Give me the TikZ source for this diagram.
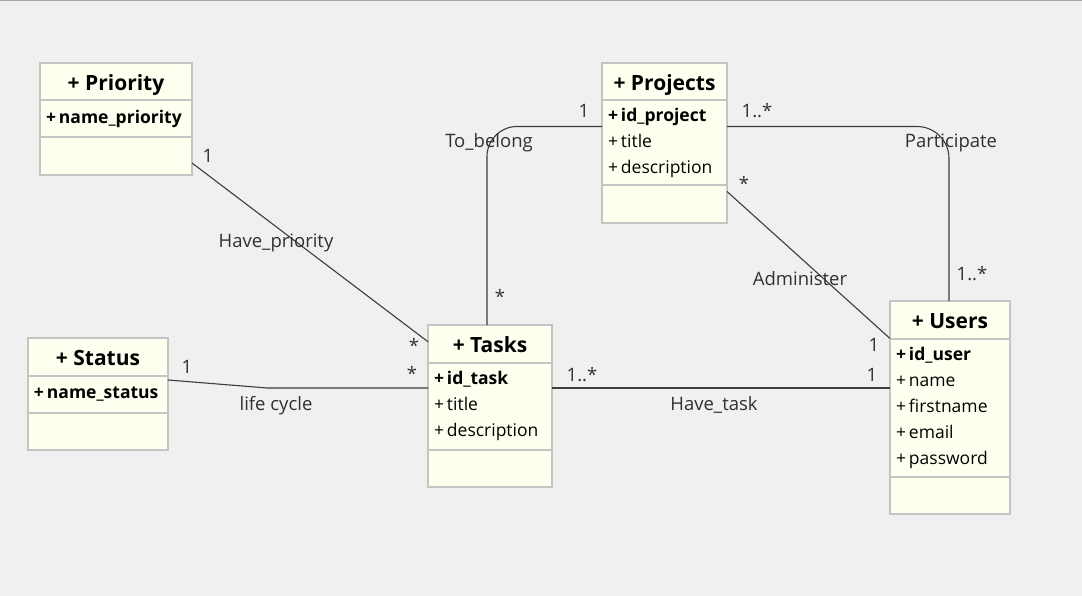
\documentclass[tikz,border=0pt]{standalone}
\usepackage{fontspec}
\setmainfont{Open Sans}
\usetikzlibrary{
calc
}
\definecolor{canvas}{HTML}{F0F0F0}
\definecolor{frameline}{HTML}{A8A8A8}
\definecolor{boxfill}{HTML}{FFFFF0}
\definecolor{boxgray}{HTML}{C4C4C4}
\definecolor{linkgray}{HTML}{3C3C3C}
\definecolor{labelgray}{HTML}{303030}
\newcommand{\classfont}{\bfseries\fontsize{21}{24}\selectfont}
\newcommand{\memberfont}{\fontsize{17.5}{26}\selectfont\hyphenpenalty=10000}
\newcommand{\member}[1]{+\kern0.17em#1}
\newcommand{\keymember}[1]{{\bfseries\member{#1}}}
\newcommand{\linkfont}{\fontsize{18.5}{22}\selectfont}

\begin{document}
\begin{tikzpicture}[
        x=1pt, y=-1pt,
        class part/.style={
          draw=boxgray, line width=2pt, fill=boxfill,
          anchor=north west, outer sep=0pt, inner sep=0pt,
        },
        class head/.style={
          class part, font=\classfont,
          text height=17.5pt, text depth=0pt,
          minimum width=#1, minimum height=37.5pt,
        },
        class attr/.style 2 args={
          class part, font=\memberfont, align=left,
          inner xsep=6pt, text width=#1, minimum height=#2,
        },
        class ops/.style={
          class part, minimum width=#1, minimum height=37.5pt,
        },
        link/.style={
          draw=linkgray, line width=1.1pt,
        },
        link label/.style={
          font=\linkfont, text=labelgray, anchor=base, inner sep=0pt,
        },
        ]
        \useasboundingbox (0,0) rectangle (1082,596);
        \fill[canvas] (0,0) rectangle (1082,596);
        \draw[frameline, line width=1.5pt] (0,0.75) -- (1082,0.75);

        % classes
        \node[class head=152pt] (priority-head) at (40,63) {+ Priority};
        \node[class attr={140pt}{37pt}] (priority-attr) at (priority-head.south west)
        {\keymember{name\_priority}};
        \node[class ops=152pt] (priority-ops) at (priority-attr.south west) {};

        \node[class head=125pt] (projects-head) at (602,63) {+ Projects};
        \node[class attr={113pt}{85pt}] (projects-attr) at (projects-head.south west)
        {\keymember{id\_project}\\\member{title}\\\member{description}};
        \node[class ops=125pt] (projects-ops) at (projects-attr.south west) {};

        \node[class head=124pt] (tasks-head) at (428,325) {+ Tasks};
        \node[class attr={112pt}{87pt}] (tasks-attr) at (tasks-head.south west)
        {\keymember{id\_task}\\\member{title}\\\member{description}};
        \node[class ops=124pt] (tasks-ops) at (tasks-attr.south west) {};

        \node[class head=120pt] (users-head) at (890,301) {+ Users};
        \node[class attr={108pt}{138pt}] (users-attr) at (users-head.south west)
        {\keymember{id\_user}\\\member{name}\\\member{firstname}\\\member{email}\\\member{password}};
        \node[class ops=120pt] (users-ops) at (users-attr.south west) {};

        \node[class head=140pt] (status-head) at (28,338) {+ Status};
        \node[class attr={128pt}{37pt}] (status-attr) at (status-head.south west)
        {\keymember{name\_status}};
        \node[class ops=140pt] (status-ops) at (status-attr.south west) {};

        % associations
        \coordinate (task-link-w) at ($(tasks-attr.north west)+(0,25.5)$);
        \coordinate (task-link-e) at ($(tasks-attr.north east)+(0,25.5)$);
        \coordinate (life-bend) at ($(task-link-w)+(-161,0)$);

        \draw[link] ($(priority-ops.north east)+(0,25.5)$) -- ($(tasks-head.west)+(0,-2)$);
        \draw[link] ($(status-attr.north east)+(0,4.5)$) -- (life-bend) -- (task-link-w);
        \draw[link] (task-link-e) -- (task-link-e -| users-attr.west);
        \draw[link, rounded corners=30pt] ($(tasks-head.north)+(-3,0)$)
        |- ($(projects-attr.north west)+(0,26)$);
        \draw[link, rounded corners=32pt] ($(projects-attr.north east)+(0,26)$)
        -| ($(users-head.north)+(-1,0)$);
        \draw[link] ($(projects-ops.north east)+(0,6)$) -- (users-attr.north west);

        % multiplicities and names
        \node[link label] at (208,163) {1};
        \node[link label] at (414,352) {*};
        \node[link label] at (276,248) {Have\_priority};

        \node[link label] at (187,373) {1};
        \node[link label] at (412,380) {*};
        \node[link label] at (276,410) {life cycle};

        \node[link label] at (582,381) {1..*};
        \node[link label] at (714,410) {Have\_task};
        \node[link label] at (872,381) {1};

        \node[link label] at (584,118) {1};
        \node[link label] at (489,148) {To\_belong};
        \node[link label] at (500,303) {*};

        \node[link label] at (757,118) {1..*};
        \node[link label] at (951,148) {Participate};
        \node[link label] at (972,280) {1..*};

        \node[link label] at (744,191) {*};
        \node[link label] at (800,286) {Administer};
        \node[link label] at (874,351) {1};
      \end{tikzpicture}
\end{document}
